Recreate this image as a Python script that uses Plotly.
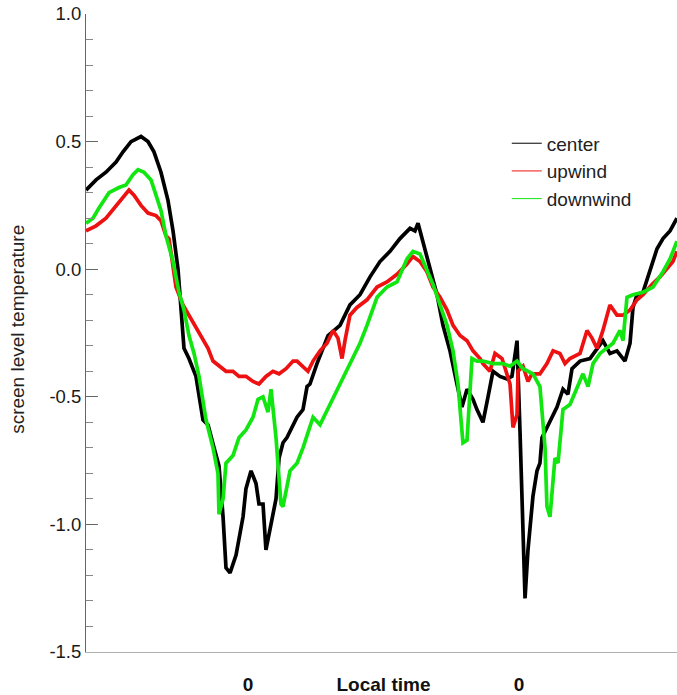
import plotly.graph_objects as go

# Local time in hours relative to the first midnight (tick "0" at 0 and 24)
center_x = [-14.35, -13.46, -12.58, -11.69, -11.07, -10.36, -9.48, -8.86, -8.33, -7.71,
            -7.09, -6.64, -6.20, -5.93, -5.67, -5.23, -4.61, -3.99, -3.54, -3.01,
            -2.57, -2.21, -1.95, -1.59, -1.06, -0.44, -0.18, 0.27, 0.71, 0.97,
            1.33, 1.59, 2.04, 2.48, 2.75, 3.10, 3.45, 3.99, 4.34, 4.87,
            5.23, 5.49, 6.11, 7.09, 8.15, 9.03, 9.92, 10.81, 11.69, 12.58,
            13.46, 14.35, 14.79, 15.06, 15.50, 16.12, 16.74, 17.27, 17.89, 18.51,
            18.95, 19.40, 19.93, 20.28, 20.81, 21.26, 21.70, 22.32, 22.94, 23.38,
            23.83, 24.09, 24.54, 24.80, 25.24, 25.60, 25.86, 26.04, 26.75, 27.37,
            27.90, 28.34, 28.70, 29.41, 30.29, 30.91, 31.44, 32.06, 32.68, 33.39,
            33.84, 34.10, 34.46, 34.99, 35.78, 36.23, 36.76, 37.38, 38.00]
center_y = [0.31, 0.35, 0.38, 0.42, 0.46, 0.50, 0.52, 0.50, 0.46, 0.38,
            0.27, 0.15, 0.00, -0.14, -0.31, -0.35, -0.42, -0.59, -0.61, -0.70,
            -0.77, -0.97, -1.17, -1.19, -1.12, -0.97, -0.86, -0.79, -0.84, -0.92,
            -0.92, -1.10, -1.00, -0.90, -0.74, -0.68, -0.66, -0.61, -0.58, -0.55,
            -0.46, -0.45, -0.37, -0.26, -0.22, -0.14, -0.10, -0.03, 0.03, 0.07,
            0.12, 0.16, 0.15, 0.18, 0.11, 0.00, -0.10, -0.22, -0.32, -0.45,
            -0.54, -0.47, -0.51, -0.55, -0.60, -0.50, -0.40, -0.42, -0.43, -0.42,
            -0.28, -0.63, -1.29, -1.10, -0.89, -0.79, -0.76, -0.66, -0.60, -0.54,
            -0.47, -0.49, -0.39, -0.36, -0.35, -0.31, -0.28, -0.33, -0.32, -0.36,
            -0.29, -0.15, -0.10, -0.09, 0.02, 0.08, 0.12, 0.15, 0.20]

upwind_x = [-14.35, -13.46, -12.58, -11.69, -11.07, -10.54, -10.10, -9.48, -8.86, -8.15,
            -7.71, -7.26, -7.00, -6.64, -6.38, -5.76, -5.23, -4.61, -3.99, -3.54,
            -3.10, -2.57, -1.95, -1.33, -0.80, -0.18, 0.44, 0.97, 1.59, 2.21,
            2.75, 3.37, 3.99, 4.34, 4.87, 5.31, 5.76, 6.38, 7.00, 7.53,
            7.97, 8.33, 8.59, 9.03, 9.65, 10.54, 11.43, 12.31, 13.20, 14.08,
            14.61, 15.23, 15.85, 16.39, 17.01, 17.63, 18.16, 18.78, 19.40, 19.93,
            20.55, 20.81, 21.43, 21.88, 22.50, 22.94, 23.21, 23.47, 23.83, 23.92,
            24.36, 24.80, 25.15, 25.86, 26.48, 27.02, 27.63, 28.08, 28.52, 29.41,
            30.03, 30.47, 30.91, 31.44, 32.06, 32.68, 33.22, 33.84, 34.46, 34.99,
            35.78, 36.49, 37.11, 37.64, 38.00]
upwind_y = [0.15, 0.17, 0.20, 0.25, 0.28, 0.31, 0.29, 0.25, 0.22, 0.21,
            0.19, 0.13, 0.12, 0.02, -0.07, -0.14, -0.18, -0.23, -0.27, -0.31,
            -0.36, -0.38, -0.40, -0.40, -0.42, -0.42, -0.44, -0.45, -0.42, -0.40,
            -0.41, -0.39, -0.36, -0.36, -0.38, -0.40, -0.36, -0.32, -0.29, -0.24,
            -0.27, -0.35, -0.28, -0.18, -0.15, -0.12, -0.07, -0.05, -0.02, 0.02,
            0.05, 0.03, -0.01, -0.07, -0.11, -0.16, -0.22, -0.26, -0.28, -0.32,
            -0.35, -0.37, -0.40, -0.33, -0.35, -0.41, -0.45, -0.62, -0.57, -0.40,
            -0.38, -0.44, -0.41, -0.41, -0.37, -0.32, -0.33, -0.37, -0.35, -0.33,
            -0.24, -0.27, -0.31, -0.24, -0.14, -0.18, -0.18, -0.16, -0.12, -0.10,
            -0.06, -0.03, 0.00, 0.03, 0.07]

downwind_x = [-14.35, -13.73, -13.20, -12.31, -11.43, -10.81, -10.19, -9.74, -9.21, -8.59,
              -8.15, -7.71, -7.26, -6.64, -6.11, -5.67, -5.23, -4.78, -4.34, -3.99,
              -3.72, -3.10, -2.66, -2.57, -2.21, -1.95, -1.33, -0.80, -0.18, 0.44,
              0.89, 1.33, 1.77, 2.04, 2.48, 2.92, 3.10, 3.72, 4.34, 4.87,
              5.76, 6.38, 7.26, 8.15, 9.03, 9.92, 10.54, 11.43, 12.31, 13.20,
              14.08, 14.61, 15.23, 15.85, 16.39, 17.01, 17.63, 18.16, 18.60, 19.04,
              19.40, 19.84, 20.28, 20.81, 21.70, 22.59, 23.21, 23.83, 24.36, 25.24,
              25.86, 26.31, 26.48, 26.75, 27.19, 27.46, 27.90, 28.52, 29.14, 29.67,
              30.12, 30.56, 31.18, 31.80, 32.33, 32.95, 33.22, 33.57, 34.10, 34.99,
              35.87, 36.76, 37.38, 38.00]
downwind_y = [0.18, 0.20, 0.24, 0.30, 0.32, 0.33, 0.37, 0.39, 0.38, 0.35,
              0.29, 0.23, 0.13, 0.03, -0.09, -0.16, -0.26, -0.33, -0.42, -0.53,
              -0.59, -0.70, -0.80, -0.96, -0.90, -0.76, -0.73, -0.66, -0.63, -0.58,
              -0.51, -0.50, -0.56, -0.47, -0.66, -0.92, -0.93, -0.79, -0.76, -0.70,
              -0.58, -0.61, -0.53, -0.45, -0.37, -0.29, -0.22, -0.11, -0.07, -0.05,
              0.04, 0.07, 0.06, 0.00, -0.06, -0.14, -0.22, -0.32, -0.45, -0.68,
              -0.67, -0.35, -0.36, -0.36, -0.37, -0.37, -0.38, -0.36, -0.39, -0.41,
              -0.46, -0.70, -0.93, -0.97, -0.74, -0.76, -0.55, -0.53, -0.46, -0.41,
              -0.46, -0.37, -0.33, -0.31, -0.29, -0.24, -0.28, -0.11, -0.10, -0.09,
              -0.07, -0.01, 0.04, 0.11]

x_tick_vals = [0, 12, 24]
x_tick_text = ["0", "Local time", "0"]
y_tick_vals = [-1.5, -1.0, -0.5, 0.0, 0.5, 1.0]
y_tick_text = ["-1.5", "-1.0", "-0.5", "0.0", "0.5", "1.0"]

series = [
    ("center", center_x, center_y, "#000000"),
    ("upwind", upwind_x, upwind_y, "#ee1111"),
    ("downwind", downwind_x, downwind_y, "#11e611"),
]

fig = go.Figure()
for name, xs, ys, col in series:
    fig.add_trace(go.Scatter(x=xs, y=ys, mode="lines", name=name, showlegend=False,
                             line=dict(color=col, width=3.7)))
# thin legend samples
for name, xs, ys, col in series:
    fig.add_trace(go.Scatter(x=[None], y=[None], mode="lines", name=name,
                             line=dict(color=col, width=1)))

font_family = "Liberation Sans, Arial, sans-serif"
fig.update_layout(
    width=677, height=695,
    margin=dict(l=86, r=0, t=14, b=38),
    paper_bgcolor="white", plot_bgcolor="white",
    showlegend=True,
    legend=dict(x=0.712, y=0.827, xanchor="left", yanchor="top",
                font=dict(family=font_family, size=19, color="#222222"),
                bgcolor="rgba(0,0,0,0)", tracegroupgap=0),
    xaxis=dict(range=[-14.35, 38.0], showgrid=False, zeroline=False,
               showline=True, linecolor="#b0b0b0", linewidth=1,
               ticks="", tickvals=x_tick_vals, ticktext=x_tick_text,
               tickfont=dict(family=font_family, size=19, color="#111111", weight="bold"),
               ticklabelstandoff=15),
    yaxis=dict(range=[-1.5, 1.0], showgrid=False, zeroline=False,
               showline=True, linecolor="#666666", linewidth=1,
               ticks="inside", ticklen=12, tickcolor="#666666", tickwidth=1,
               tickvals=y_tick_vals, ticktext=y_tick_text,
               tickfont=dict(family=font_family, size=18.5, color="#1a1a1a"),
               minor=dict(dtick=0.1, ticks="inside", ticklen=7, tickcolor="#888888", tickwidth=1)),
    yaxis2=dict(range=[-1.5, 1.0], overlaying="y", side="right", showgrid=False,
                zeroline=False, showline=False, showticklabels=False,
                ticks="inside", ticklen=12, tickcolor="#666666", tickwidth=1,
                tickvals=y_tick_vals,
                minor=dict(dtick=0.1, ticks="inside", ticklen=7, tickcolor="#888888", tickwidth=1)),
    annotations=[dict(text="screen level temperature", textangle=-90,
                      xref="paper", yref="paper", x=-0.115, y=0.505,
                      xanchor="center", yanchor="middle", showarrow=False,
                      font=dict(family=font_family, size=19, color="#222222"))],
)

fig.write_html("out.html")
